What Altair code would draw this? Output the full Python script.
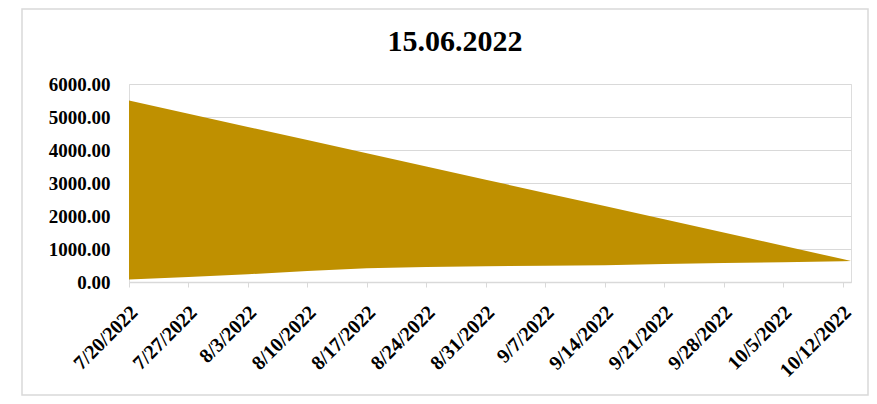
import altair as alt
import pandas as pd

title_text = ["15.06.2022"]
dates = ["2022-07-20", "2022-07-27", "2022-08-03", "2022-08-10", "2022-08-17",
         "2022-08-24", "2022-08-31", "2022-09-07", "2022-09-14", "2022-09-21",
         "2022-09-28", "2022-10-05", "2022-10-12", "2022-10-13"]
upper = [5500, 5100, 4700, 4300, 3900, 3500, 3100, 2700, 2300, 1900, 1500, 1100, 695, 635]
lower = [75, 150, 235, 335, 415, 455, 475, 495, 510, 545, 575, 600, 630, 635]
tick_dates = [(2022, 7, 20), (2022, 7, 27), (2022, 8, 3), (2022, 8, 10), (2022, 8, 17),
              (2022, 8, 24), (2022, 8, 31), (2022, 9, 7), (2022, 9, 14), (2022, 9, 21),
              (2022, 9, 28), (2022, 10, 5), (2022, 10, 12)]
y_ticks = [0, 1000, 2000, 3000, 4000, 5000, 6000]

df = pd.DataFrame({"date": dates, "upper": upper, "lower": lower})

FONT = "Liberation Serif"
GRID = "#D9D9D9"

x_enc = alt.X(
    "date:T",
    scale=alt.Scale(type="utc",
                    domain=[alt.DateTime(year=2022, month=7, date=20, utc=True),
                            alt.DateTime(year=2022, month=10, date=13, utc=True)],
                    nice=False),
    axis=alt.Axis(
        values=[alt.DateTime(year=y, month=m, date=d, utc=True) for (y, m, d) in tick_dates],
        labelExpr="utcFormat(datum.value, '%-m/%-d/%Y')",
        labelAngle=-45, labelAlign="right", labelBaseline="middle",
        labelFont=FONT, labelFontSize=20, labelFontWeight="bold", labelColor="#000000",
        labelPadding=22, labelOffset=5,
        domainColor=GRID, domainWidth=1.5, tickColor=GRID, tickSize=5, tickWidth=1,
        grid=False, title=None, labelOverlap=False, labelBound=False, labelFlush=False,
    ),
)

y_enc = alt.Y(
    "upper:Q",
    scale=alt.Scale(domain=[0, 6000], nice=False),
    axis=alt.Axis(
        values=y_ticks, format=".2f",
        labelFont=FONT, labelFontSize=19, labelFontWeight="bold", labelColor="#000000",
        labelPadding=19, ticks=False, domain=False,
        grid=True, gridColor=GRID, gridWidth=1, title=None,
    ),
)

area = alt.Chart(df).mark_area(color="#BF9000", opacity=1, interpolate="linear").encode(
    x=x_enc, y=y_enc, y2="lower:Q"
)

frame = alt.Chart(pd.DataFrame({"k": [0]})).mark_rect(
    filled=False, stroke=GRID, strokeWidth=1.5
).encode(
    x=alt.value(-107), x2=alt.value(739), y=alt.value(-75), y2=alt.value(311)
)

title = alt.Chart(pd.DataFrame({"t": title_text})).mark_text(
    font=FONT, fontSize=30, fontWeight="bold", color="#000000",
    align="center", baseline="alphabetic"
).encode(text="t:N", x=alt.value(326), y=alt.value(-33))

chart = alt.layer(frame, area, title).properties(
    width=722, height=198,
    autosize=alt.AutoSizeParams(type="none"),
    padding={"left": 121, "top": 76, "right": 18, "bottom": 114},
).configure_view(stroke=None).configure(background="white")

chart.save("out.html", embed_options={"renderer": "svg", "actions": False})
